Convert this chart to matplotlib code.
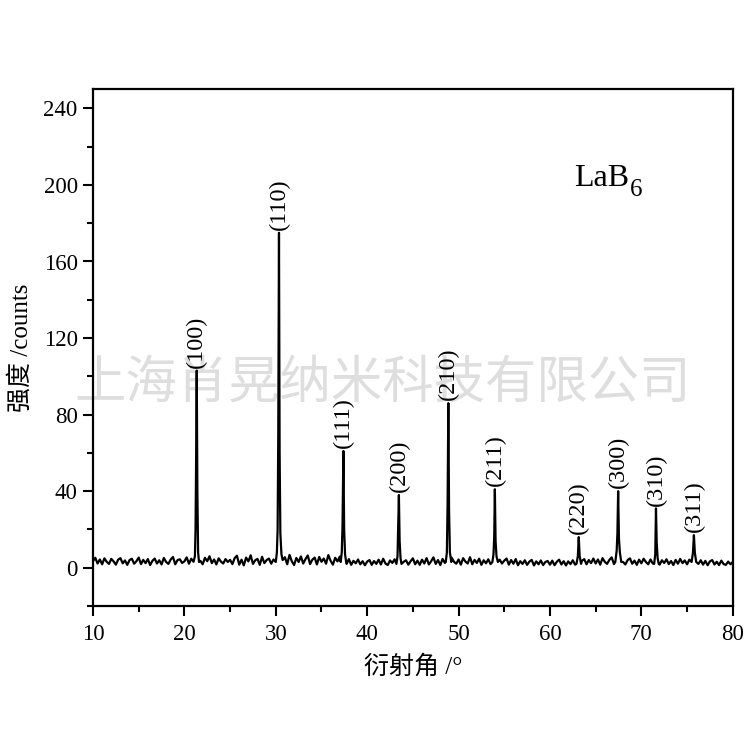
import numpy as np
import matplotlib
matplotlib.use("Agg")
import matplotlib.pyplot as plt
from matplotlib.ticker import MultipleLocator

# ---------------- data ----------------
# background counts, 10.00 .. 80.00 deg in 0.25 deg steps (read/estimated)
bg_counts = [
    3.5, 5.2, 2.2, 4.3, 1.8, 4.9, 3.1, 2.0, 4.6, 3.3, 1.6, 4.2, 5.0, 2.3, 3.8, 1.5, 4.0, 4.7, 2.1, 3.4,
    5.3, 1.9, 4.1, 2.4, 4.5, 1.4, 3.6, 4.8, 2.2, 3.9, 1.7, 5.1, 3.0, 2.0, 4.3, 5.6, 1.8, 4.0, 4.4, 2.5,
    3.3, 5.4, 2.1, 4.7, 3.1, 2.3, 4.4, 3.6, 1.8, 5.2, 3.4, 6.0, 2.4, 4.3, 1.7, 4.9, 3.2, 2.2, 4.5, 3.0,
    4.1, 1.9, 5.0, 6.3, 1.6, 4.2, 1.2, 5.3, 3.3, 6.5, 2.0, 3.9, 4.6, 1.5, 5.7, 2.4, 4.0, 4.8, 2.1, 4.3,
    3.2, 4.4, 2.3, 3.9, 5.5, 1.8, 6.7, 3.4, 1.4, 5.1, 3.0, 5.9, 2.2, 4.5, 6.4, 1.9, 4.2, 5.3, 1.7, 5.6,
    3.1, 4.8, 2.1, 6.6, 3.6, 1.6, 5.2, 3.3, 5.8, 2.5, 4.1, 2.0, 4.5, 1.5, 3.6, 2.3, 4.3, 1.8, 3.4, 1.3,
    3.2, 4.0, 1.5, 3.5, 2.0, 4.2, 1.7, 4.7, 2.2, 1.4, 3.8, 2.5, 4.4, 1.9, 3.6, 1.2, 3.1, 3.9, 1.6, 3.4,
    4.9, 1.8, 3.7, 1.5, 4.2, 2.2, 5.0, 1.7, 3.4, 5.4, 2.0, 4.0, 1.4, 4.6, 2.5, 3.8, 1.9, 5.2, 3.1, 2.1,
    4.3, 1.6, 5.0, 3.2, 2.2, 5.5, 1.8, 4.1, 2.5, 4.7, 1.5, 3.9, 2.3, 4.4, 1.9, 3.8, 5.1, 1.7, 4.2, 2.2,
    3.7, 4.8, 1.6, 4.0, 2.1, 4.5, 1.3, 3.4, 2.0, 3.9, 1.5, 3.2, 4.1, 1.2, 3.3, 1.8, 3.8, 1.4, 3.0, 3.5,
    1.6, 3.7, 1.3, 3.1, 4.2, 1.7, 3.4, 1.2, 3.3, 1.9, 3.9, 1.6, 4.3, 2.1, 3.6, 4.5, 1.8, 4.0, 2.4, 4.8,
    2.2, 4.3, 1.6, 5.0, 3.1, 2.0, 4.1, 5.4, 1.9, 3.8, 2.4, 4.6, 3.0, 1.7, 4.0, 4.9, 2.1, 3.7, 1.5, 4.2,
    2.3, 4.7, 3.0, 1.8, 4.3, 2.2, 5.2, 3.3, 1.6, 3.9, 2.5, 4.4, 1.9, 3.5, 1.4, 4.1, 2.1, 4.6, 2.4, 3.8,
    1.8, 4.2, 2.2, 4.5, 3.0, 2.0, 3.9, 1.6, 3.6, 1.3, 3.3, 4.0, 1.7, 3.1, 1.4, 3.7, 1.9, 1.5, 3.2, 1.8,
    3.0,
]
bg_2theta = np.linspace(10, 80, len(bg_counts))

# diffraction peaks: profile points (2theta, counts)
peak_2theta = [
    [21.05, 21.15, 21.22, 21.28, 21.35, 21.42, 21.50, 21.60],
    [30.00, 30.12, 30.20, 30.27, 30.35, 30.42, 30.50, 30.62, 30.75],
    [37.10, 37.22, 37.30, 37.40, 37.48, 37.58, 37.70],
    [43.20, 43.32, 43.40, 43.47, 43.55, 43.65, 43.75],
    [48.60, 48.72, 48.80, 48.88, 48.96, 49.05, 49.20],
    [53.70, 53.82, 53.90, 53.97, 54.05, 54.15, 54.30],
    [62.90, 63.05, 63.15, 63.25, 63.40],
    [67.15, 67.30, 67.38, 67.46, 67.55, 67.65, 67.80],
    [71.40, 71.52, 71.60, 71.68, 71.78, 71.90],
    [75.50, 75.65, 75.75, 75.85, 76.00],
]
peak_counts = [
    [4, 6, 20, 55, 103, 40, 8, 3],
    [3, 8, 20, 68, 175, 60, 18, 7, 4],
    [3, 8, 22, 61, 20, 7, 3],
    [2, 6, 24, 38, 14, 5, 2],
    [3, 8, 34, 86, 30, 8, 3],
    [3, 7, 16, 41, 14, 6, 3],
    [2, 6, 16, 6, 2],
    [3, 9, 18, 40, 15, 8, 3],
    [2, 7, 31, 13, 5, 2],
    [3, 8, 17, 8, 3],
]
hkl_labels = ["(100)", "(110)", "(111)", "(200)", "(210)",
              "(211)", "(220)", "(300)", "(310)", "(311)"]

# ---------------- combine into one pattern ----------------
bg_x = np.asarray(bg_2theta)
bg_y = np.asarray(bg_counts, dtype=float)
keep = np.ones_like(bg_x, dtype=bool)
for px in peak_2theta:
    keep &= ~((bg_x >= min(px)) & (bg_x <= max(px)))
all_x = np.concatenate([bg_x[keep]] + [np.asarray(p) for p in peak_2theta])
all_y = np.concatenate([bg_y[keep]] + [np.asarray(p, dtype=float) for p in peak_counts])
order = np.argsort(all_x)
all_x, all_y = all_x[order], all_y[order]

# ---------------- plot ----------------
serif = ["Liberation Serif", "Noto Sans CJK SC"]
plt.rcParams["font.family"] = serif

fig = plt.figure(figsize=(7.5, 7.5), dpi=100)
ax = fig.add_axes([0.124, 0.192, 0.853, 0.689])

ax.plot(all_x, all_y, color="black", lw=1.6, zorder=3)

for px, py, lab in zip(peak_2theta, peak_counts, hkl_labels):
    i = int(np.argmax(py))
    ax.text(px[i], py[i] + 1.5, lab, rotation=90, ha="center", va="bottom",
            fontsize=17.5, family=serif, zorder=4)

# LaB6 with a large, low subscript
ax.annotate("LaB", xy=(0.752, 0.812), xycoords="axes fraction", fontsize=23,
            ha="left", va="baseline", family=serif)
ax.annotate("6", xy=(0.752, 0.812), xycoords="axes fraction",
            xytext=(40, -7), textcoords="offset points", fontsize=18,
            ha="left", va="baseline", family=serif)

ax.set_xlim(10, 80)
ax.set_ylim(-20, 250)
ax.xaxis.set_major_locator(MultipleLocator(10))
ax.xaxis.set_minor_locator(MultipleLocator(5))
ax.yaxis.set_major_locator(MultipleLocator(40))
ax.yaxis.set_minor_locator(MultipleLocator(20))
ax.tick_params(which="major", direction="out", length=7, width=1.5, labelsize=16.5, pad=4)
ax.tick_params(axis="x", which="major", pad=6)
ax.tick_params(which="minor", direction="out", length=4, width=1.5)
for s in ax.spines.values():
    s.set_linewidth(1.6)

ax.set_xlabel("衍射角 /°", fontsize=18, family=serif, labelpad=7)
ax.set_ylabel("强度 /counts", fontsize=18, family=serif, labelpad=8)

# watermark
ax.text(0.51, 0.489, "上海肖晃纳米科技有限公司", transform=fig.transFigure,
        fontsize=37, color="#dedede", ha="center", va="center",
        family=["Noto Sans CJK SC"], zorder=1, clip_on=False)

fig.savefig("out.png", dpi=100)
